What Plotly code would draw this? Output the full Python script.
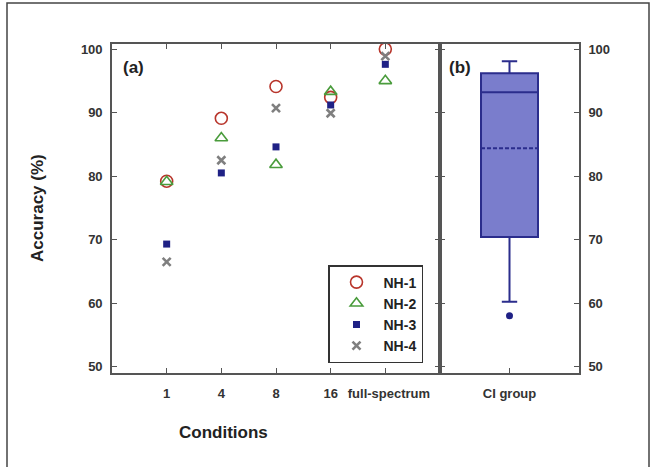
import plotly.graph_objects as go

conditions = ["1", "4", "8", "16", "full-spectrum"]
nh1 = [79.2, 89.1, 94.1, 92.4, 100.0]
nh2 = [79.1, 86.0, 81.8, 93.3, 95.0]
nh3 = [69.3, 80.5, 84.6, 91.2, 97.6]
nh4 = [66.5, 82.5, 90.7, 89.9, 98.9]

ci_group = ["CI group"]
ci_q1 = [70.4]
ci_median = [93.2]
ci_q3 = [96.2]
ci_low = [60.2]
ci_high = [98.1]
ci_mean = [84.4]
ci_outlier = [58.0]

yticks = [50, 60, 70, 80, 90, 100]

W, H = 650, 467
L, R, T, B = 112, 579, 44, 373
split = 440

fig = go.Figure()

styles = [
    ("NH-1", nh1, dict(symbol="circle-open", size=12, color="#b8352b", line=dict(width=1.6, color="#b8352b"))),
    ("NH-2", nh2, dict(symbol="triangle-up-open", size=11, color="#4a9c3c", line=dict(width=1.6, color="#4a9c3c"))),
    ("NH-3", nh3, dict(symbol="square", size=7, color="#1f2185", line=dict(width=0))),
    ("NH-4", nh4, dict(symbol="x-thin-open", size=8, color="#7f7f7f", line=dict(width=2.6, color="#7f7f7f"))),
]
for name, vals, mk in styles:
    fig.add_trace(go.Scatter(x=conditions, y=vals, mode="markers", name=name,
                             marker=mk, xaxis="x", yaxis="y"))

fig.add_trace(go.Box(x=ci_group, q1=ci_q1, median=ci_median, q3=ci_q3,
                     lowerfence=ci_low, upperfence=ci_high, mean=ci_mean,
                     boxmean=True, width=0.41, whiskerwidth=0.27,
                     fillcolor="#7a7dcc", line=dict(color="#2b2d8c", width=2),
                     showlegend=False, xaxis="x2", yaxis="y2", boxpoints=False))
fig.add_trace(go.Scatter(x=ci_group, y=ci_outlier, mode="markers",
                         marker=dict(symbol="circle", size=7, color="#1f2185"),
                         showlegend=False, xaxis="x2", yaxis="y2"))

axcol = "#555555"
tickfont = dict(family="Liberation Sans, Arial", size=13, color="#333333", weight="bold")
pw = R - L
ph = B - T
d1 = (split - L) / pw

# the last category label sits slightly right of its tick, as in the reference
xticktext = conditions[:-1] + ["\u00a0" * 2 + conditions[-1]]

common_y = dict(range=[49.0, 100.8], tickvals=yticks, ticks="inside", ticklen=5,
                tickcolor=axcol, tickwidth=1.3, showline=True, linecolor=axcol,
                linewidth=1.6, showgrid=False, zeroline=False, ticklabelstandoff=5,
                tickfont=tickfont, automargin=False)

fig.update_layout(
    width=W, height=H,
    margin=dict(l=L, r=W - R, t=T, b=H - B),
    paper_bgcolor="white", plot_bgcolor="white",
    showlegend=True,
    xaxis=dict(domain=[0, d1], type="category", range=[-1, 5], ticks="inside", ticklen=5,
               tickcolor=axcol, tickwidth=1.3, showline=True, linecolor=axcol, linewidth=1.6,
               mirror="ticks", showgrid=False, tickfont=tickfont, anchor="y",
               tickvals=conditions, ticktext=xticktext, ticklabelstandoff=8,
               tickangle=0, automargin=False),
    yaxis=dict(domain=[0, 1], anchor="x", mirror="ticks", **common_y),
    xaxis2=dict(domain=[d1, 1], type="category", range=[-0.5, 0.5], ticks="inside", ticklen=5,
                tickcolor=axcol, tickwidth=1.3, showline=True, linecolor=axcol, linewidth=1.6,
                mirror=True, showgrid=False, tickfont=tickfont, anchor="y2",
                ticklabelstandoff=8, tickangle=0, automargin=False),
    yaxis2=dict(domain=[0, 1], anchor="x2", side="right", mirror="ticks", **common_y),
    legend=dict(x=(328 - L) / pw, y=(B - 265) / ph, xanchor="left", yanchor="top",
                bordercolor="#333333", borderwidth=1.5, bgcolor="white",
                font=dict(family="Liberation Sans, Arial", size=14, color="#222222", weight="bold"),
                itemwidth=44, tracegroupgap=0),
)

def px_x(px):
    return (px - L) / pw

def px_y(py):
    return (B - py) / ph

fig.add_annotation(text="(a)", x=px_x(121), y=px_y(67), xref="paper", yref="paper",
                   xanchor="left", yanchor="middle", showarrow=False,
                   font=dict(family="Liberation Sans, Arial", size=17, color="#222222", weight="bold"))
fig.add_annotation(text="(b)", x=px_x(447), y=px_y(67), xref="paper", yref="paper",
                   xanchor="left", yanchor="middle", showarrow=False,
                   font=dict(family="Liberation Sans, Arial", size=17, color="#222222", weight="bold"))
fig.add_annotation(text="Accuracy (%)", x=px_x(37), y=px_y(208), xref="paper", yref="paper",
                   xanchor="center", yanchor="middle", textangle=-90, showarrow=False,
                   font=dict(family="Liberation Sans, Arial", size=17, color="#222222", weight="bold"))
fig.add_annotation(text="Conditions", x=px_x(223), y=px_y(432), xref="paper", yref="paper",
                   xanchor="center", yanchor="middle", showarrow=False,
                   font=dict(family="Liberation Sans, Arial", size=17, color="#222222", weight="bold"))

fig.add_shape(type="rect", xref="paper", yref="paper",
              x0=px_x(7), x1=px_x(649), y0=px_y(472), y1=px_y(3),
              line=dict(color="#444444", width=1.5), layer="below")

fig.write_html("out.html")
